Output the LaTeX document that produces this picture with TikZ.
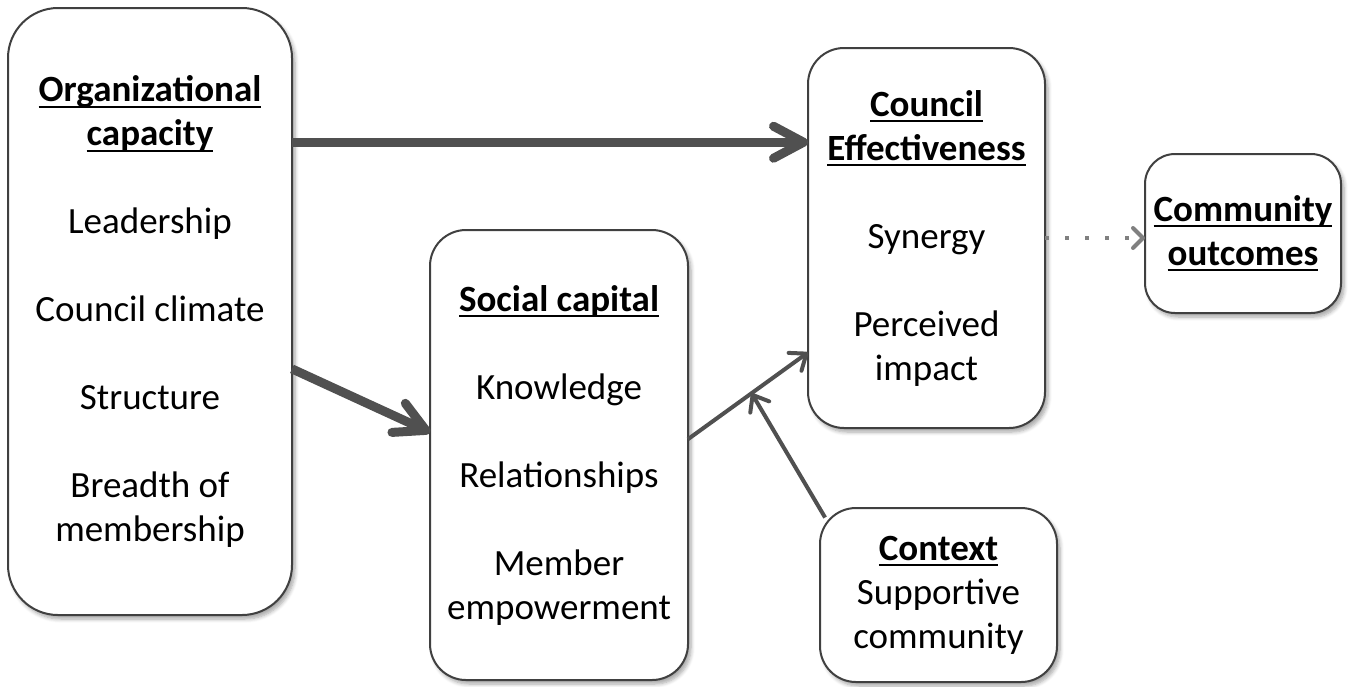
\documentclass[tikz,border=0pt]{standalone}
\usepackage{fontspec}
\setmainfont{Carlito}
\usetikzlibrary{arrows.meta,shadows.blur}

% bold heading with a low underline
\newcommand{\uhead}[1]{\setbox0\hbox{\bfseries #1}\rlap{\rule[-3pt]{\wd0}{1pt}}\box0}

\definecolor{arrowgray}{HTML}{505050}
\definecolor{framegray}{HTML}{404040}

\tikzset{
  box/.style={draw=framegray, line width=1pt, fill=white, align=center,
    inner sep=0pt, outer sep=0pt, font=\fontsize{18.5}{22}\selectfont,
    blur shadow={shadow xshift=1.5pt, shadow yshift=-2pt, shadow blur steps=6, shadow opacity=35}},
  bigarrow/.style={draw=arrowgray, line width=4.5pt, -{Straight Barb[round,length=15pt,width=16pt]}},
  smallarrow/.style={draw=arrowgray, line width=2pt, -{Straight Barb[round,length=7pt,width=11pt]}},
  dotarrow/.style={draw=gray, line width=2pt, dash pattern=on 2pt off 8pt, -{Straight Barb[round,length=5pt,width=10pt]}}
}

\begin{document}
\begin{tikzpicture}[x=0.5pt,y=-0.5pt]
  \useasboundingbox (0,0) rectangle (1352,686);

  \node[box, minimum width=142pt, minimum height=303.5pt, rounded corners=25pt] (org) at (150,311.5)
    {\uhead{Organizational}\\ \uhead{capacity}\\[22pt] Leadership\\[22pt] Council climate\\[22pt] Structure\\[22pt] Breadth of\\ membership};
  \node[box, minimum width=129pt, minimum height=225pt, rounded corners=18pt] (soc) at (559,455)
    {\uhead{Social capital}\\[22pt] Knowledge\\[22pt] Relationships\\[22pt] Member\\ empowerment};
  \node[box, minimum width=118.5pt, minimum height=190pt, rounded corners=18pt] (eff) at (926.5,238)
    {\uhead{Council}\\ \uhead{Effectiveness}\\[22pt] Synergy\\[22pt] Perceived\\ impact};
  \node[box, minimum width=98pt, minimum height=79.5pt, rounded corners=15pt] (com) at (1243,233.5)
    {\uhead{Community}\\ \uhead{outcomes}};
  \node[box, minimum width=118.5pt, minimum height=87pt, rounded corners=18pt] (ctx) at (938.5,595)
    {\uhead{Context}\\ Supportive\\ community};

  \draw[bigarrow] (org.50) -- (org.50 -| eff.west);
  \draw[bigarrow] (org.-22) -- (soc.170);
  \draw[smallarrow] (soc.7) -- coordinate[pos=0.53] (join) (eff.224);
  \draw[smallarrow, shorten <=-5pt] (ctx.144) -- (join);
  \draw[dotarrow] (eff.east) -- (eff.east -| com.west);
\end{tikzpicture}
\end{document}
